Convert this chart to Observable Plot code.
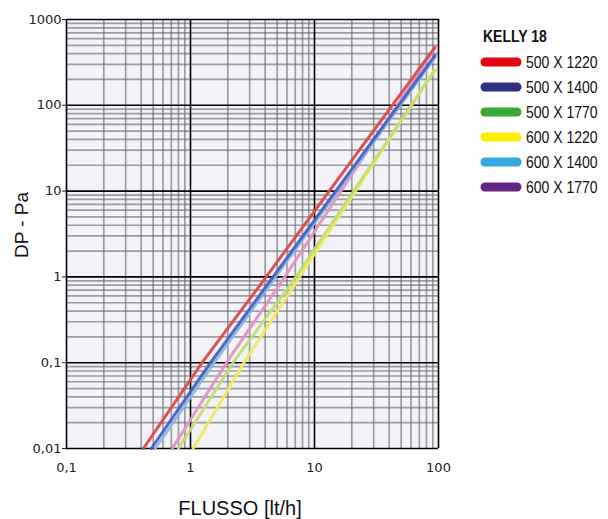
<!DOCTYPE html>
<html><head><meta charset="utf-8">
<script src="https://cdn.jsdelivr.net/npm/d3@7"></script>
<script src="https://cdn.jsdelivr.net/npm/@observablehq/plot@0.6"></script>
<style>body{margin:0;background:#fff}#chart{position:relative;width:608px;height:519px}</style>
</head><body><div id="chart"></div>
<script>
// Series (legend order)
const seriesNames = ["500 X 1220", "500 X 1400", "500 X 1770", "600 X 1220", "600 X 1400", "600 X 1770"];
const legendColors = ["#e30613", "#2e3180", "#3aaa35", "#ffed00", "#36a9e1", "#662483"];
const lineColors = ["#d94a4c", "#4d5fbf", "#c3db72", "#eeea5a", "#8ab8e4", "#e392c2"];

// Values: flow [lt/h] and pressure drop [Pa]
const q500x1220 = [0.417, 1.24, 3.86, 93.5];
const dp500x1220 = [0.01, 0.1, 0.9, 472];
const q500x1400 = [0.483, 1.45, 4.39, 93.5];
const dp500x1400 = [0.01, 0.1, 0.9, 380];
const q500x1770 = [0.8, 2.2, 6.73, 93.5];
const dp500x1770 = [0.01, 0.1, 0.9, 255];
const q600x1220 = [1.05, 2.7, 7.24, 93.5];
const dp600x1220 = [0.01, 0.1, 0.9, 262];
const q600x1400 = [0.52, 1.55, 4.6, 93.5];
const dp600x1400 = [0.01, 0.1, 0.9, 360];
const q600x1770 = [0.713, 1.95, 5.48, 93.5];
const dp600x1770 = [0.01, 0.1, 0.9, 465];

// Axis ticks
const xTicks = [0.1, 1, 10, 100];
const xTickLabels = ["0,1", "1", "10", "100"];
const yTicks = [0.01, 0.1, 1, 10, 100, 1000];
const yTickLabels = ["0,01", "0,1", "1", "10", "100", "1000"];
const minorSteps = [2, 3, 4, 5, 6, 7, 8, 9];

const allQ = [q500x1220, q500x1400, q500x1770, q600x1220, q600x1400, q600x1770];
const allDP = [dp500x1220, dp500x1400, dp500x1770, dp600x1220, dp600x1400, dp600x1770];
const rows = [];
allQ.forEach((qs, i) => qs.forEach((q, j) => rows.push({series: seriesNames[i], q, dp: allDP[i][j]})));

const minorX = xTicks.slice(0, -1).flatMap(d => minorSteps.map(s => d * s));
const minorY = yTicks.slice(0, -1).flatMap(d => minorSteps.map(s => d * s));
const drawOrder = [3, 2, 5, 4, 1, 0];

const plot = Plot.plot({
  width: 608, height: 519,
  marginLeft: 66, marginRight: 170, marginTop: 19, marginBottom: 71,
  style: {fontFamily: "DejaVu Sans", fontSize: "13px", background: "#fff"},
  x: {type: "log", domain: [0.1, 100]},
  y: {type: "log", domain: [0.01, 1000]},
  color: {domain: seriesNames, range: lineColors},
  marks: [
    Plot.frame({fill: "#f3f3f7", stroke: null}),
    Plot.ruleX(minorX, {stroke: "#62626c", strokeOpacity: 0.6, strokeWidth: 1.7}),
    Plot.ruleY(minorY, {stroke: "#62626c", strokeOpacity: 0.6, strokeWidth: 1.7}),
    Plot.ruleX(xTicks, {stroke: "#000", strokeWidth: 1.6}),
    Plot.ruleY(yTicks, {stroke: "#000", strokeWidth: 1.6}),
    ...drawOrder.map(i => Plot.line(rows.filter(r => r.series === seriesNames[i]), {
      x: "q", y: "dp", stroke: lineColors[i], strokeWidth: 3, strokeOpacity: 0.95
    })),
    Plot.axisY(yTicks, {tickFormat: (d, i) => yTickLabels[yTicks.indexOf(d)], tickSize: 4, tickPadding: 1, fontSize: 13, color: "#222", label: null}),
    Plot.axisX(xTicks, {tickFormat: d => xTickLabels[xTicks.indexOf(d)], tickSize: 0, tickPadding: 14, fontSize: 13, color: "#222", label: null})
  ]
});
document.getElementById("chart").appendChild(plot);

const svg = d3.select(plot);
svg.append("text").attr("transform", "translate(28,225) rotate(-90)")
  .attr("text-anchor", "middle").attr("font-family", "Liberation Sans, Arial, sans-serif")
  .attr("font-size", 19).attr("fill", "#111").text("DP - Pa");
svg.append("text").attr("x", 240).attr("y", 515)
  .attr("text-anchor", "middle").attr("font-family", "Liberation Sans, Arial, sans-serif")
  .attr("font-size", 20).attr("fill", "#111").text("FLUSSO [lt/h]");

const lg = svg.append("g").attr("text-anchor", "start").attr("font-family", "Liberation Sans, Arial, sans-serif");
lg.append("text").attr("transform", "translate(483,42) scale(1,1.15)").attr("text-anchor", "start")
  .attr("font-size", 14).attr("font-weight", "bold").attr("fill", "#111").text("KELLY 18");
seriesNames.forEach((name, i) => {
  const y = 62 + i * 25;
  lg.append("line").attr("x1", 485).attr("x2", 517).attr("y1", y).attr("y2", y)
    .attr("stroke", legendColors[i]).attr("stroke-width", 9).attr("stroke-linecap", "round");
  lg.append("text").attr("transform", `translate(526,${y + 6}) scale(1,1.2)`).attr("text-anchor", "start")
    .attr("font-size", 14).attr("fill", "#111").text(name);
});
</script>
</body></html>
